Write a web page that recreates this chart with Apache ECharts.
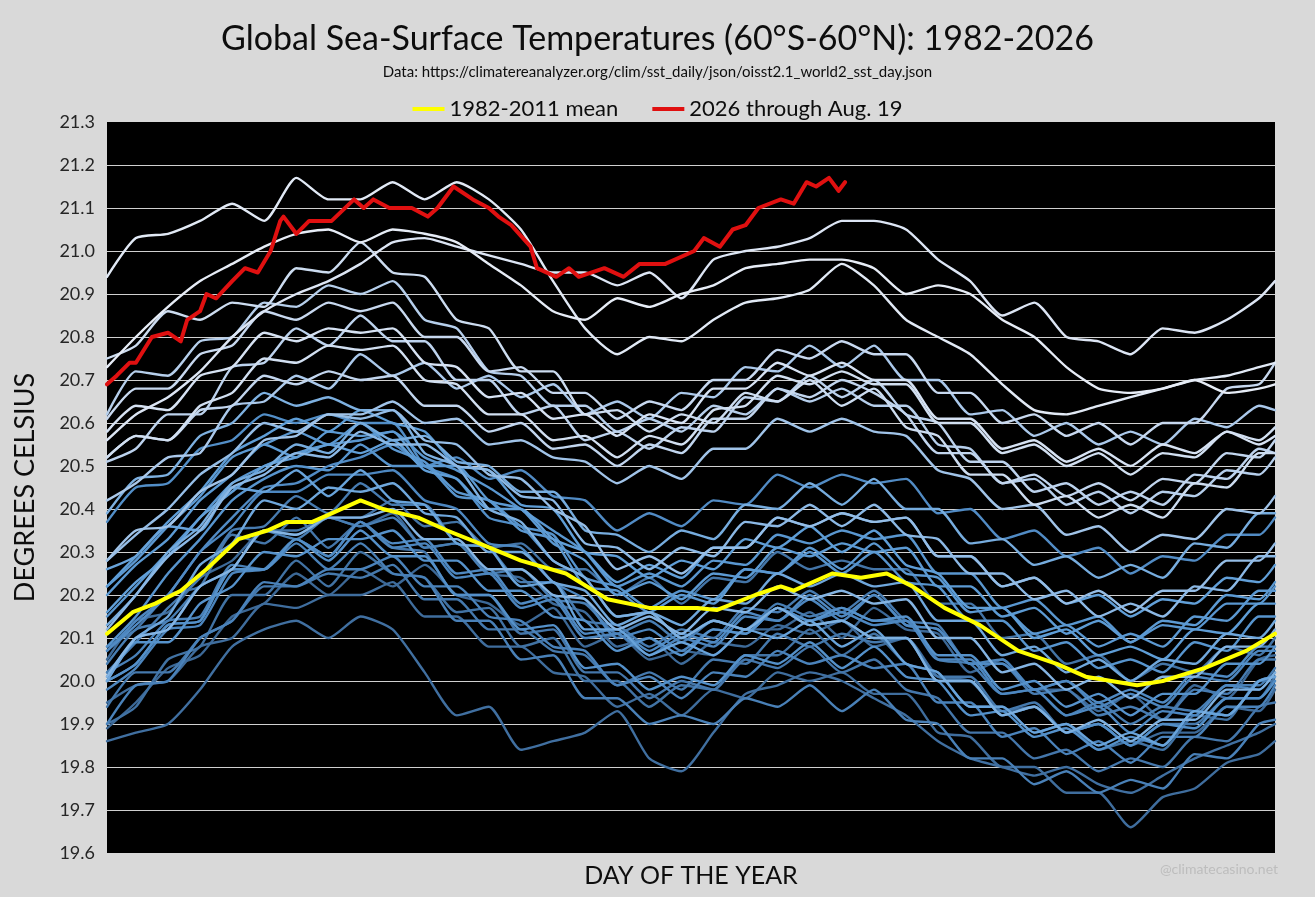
<!DOCTYPE html>
<html>
<head>
<meta charset="utf-8">
<title>Global Sea-Surface Temperatures</title>
<script src="https://cdn.jsdelivr.net/npm/echarts@6/dist/echarts.min.js"></script>
<style>
  html, body { margin: 0; padding: 0; background: #d9d9d9; }
  #chart { width: 1315px; height: 897px; }
</style>
</head>
<body>
<div id="chart"></div>
<script>
// sample days used for every year line (day of the year)
const DAYS = [1,10,20,30,40,50,60,70,80,90,100,110,120,130,140,150,160,170,180,190,200,210,220,230,240,250,260,270,280,290,300,310,320,330,340,350,360,365];

const YEARS = [1982,1983,1984,1985,1986,1987,1988,1989,1990,1991,1992,1993,1994,1995,1996,1997,1998,1999,2000,2001,2002,2003,2004,2005,2006,2007,2008,2009,2010,2011,2012,2013,2014,2015,2016,2017,2018,2019,2020,2021,2022,2023,2024,2025];

// one list per year at the DAYS above
const y1982 = [19.89,19.95,20.03,20.06,20.15,20.18,20.25,20.20,20.26,20.22,20.27,20.20,20.18,20.13,20.17,20.08,20.11,20.05,20.07,20.06,20.12,20.12,20.16,20.10,20.17,20.12,20.11,20.02,20.05,19.98,19.98,19.93,19.97,19.91,19.99,19.96,20.05,20.06];
const y1983 = [20.05,20.14,20.16,20.24,20.28,20.35,20.34,20.38,20.36,20.39,20.31,20.32,20.25,20.24,20.18,20.16,20.08,20.10,20.04,20.09,20.08,20.13,20.11,20.14,20.08,20.10,20.01,20.00,19.93,19.94,19.88,19.90,19.85,19.88,19.88,19.94,19.93,19.98];
const y1984 = [19.95,19.99,20.00,20.08,20.10,20.18,20.17,20.20,20.20,20.23,20.15,20.15,20.08,20.08,20.02,20.01,19.94,19.97,19.92,19.98,19.96,20.02,20.00,20.02,19.97,19.97,19.88,19.87,19.80,19.80,19.74,19.74,19.66,19.73,19.75,19.81,19.83,19.86];
const y1985 = [19.86,19.88,19.90,19.98,20.08,20.12,20.14,20.10,20.15,20.12,20.02,19.92,19.94,19.84,19.86,19.88,19.93,19.82,19.79,19.88,19.97,19.99,20.02,20.00,19.96,19.92,19.86,19.82,19.80,19.78,19.80,19.76,19.74,19.78,19.82,19.85,19.88,19.90];
const y1986 = [19.90,19.94,20.05,20.08,20.20,20.20,20.28,20.22,20.30,20.25,20.24,20.16,20.17,20.08,20.10,20.00,20.00,19.94,19.99,19.98,20.06,20.06,20.12,20.06,20.11,20.04,20.02,19.94,19.94,19.88,19.90,19.84,19.86,19.84,19.92,19.91,20.00,20.00];
const y1987 = [20.00,20.10,20.12,20.22,20.26,20.35,20.35,20.38,20.38,20.42,20.36,20.37,20.31,20.32,20.26,20.26,20.20,20.24,20.18,20.24,20.23,20.30,20.26,20.28,20.26,20.26,20.18,20.18,20.10,20.11,20.04,20.06,20.00,20.04,20.02,20.08,20.06,20.10];
const y1988 = [20.08,20.12,20.20,20.22,20.34,20.32,20.38,20.31,20.37,20.31,20.30,20.20,20.20,20.11,20.12,20.02,20.02,19.96,20.00,19.98,20.05,20.03,20.08,20.02,20.05,19.98,19.96,19.88,19.88,19.82,19.84,19.79,19.82,19.80,19.87,19.86,19.94,19.95];
const y1989 = [19.94,20.02,20.02,20.10,20.14,20.22,20.22,20.25,20.24,20.27,20.19,20.19,20.12,20.12,20.07,20.06,19.99,20.02,19.98,20.05,20.04,20.11,20.08,20.11,20.09,20.10,20.01,20.01,19.93,19.95,19.88,19.90,19.85,19.90,19.90,19.96,19.96,20.01];
const y1990 = [20.02,20.09,20.17,20.24,20.35,20.36,20.43,20.39,20.46,20.41,20.41,20.32,20.31,20.23,20.23,20.14,20.13,20.08,20.12,20.10,20.17,20.16,20.21,20.16,20.21,20.14,20.13,20.04,20.04,19.97,19.98,19.92,19.94,19.91,19.98,19.97,20.05,20.05];
const y1991 = [20.04,20.12,20.14,20.22,20.26,20.35,20.33,20.38,20.36,20.38,20.31,20.32,20.25,20.26,20.19,20.18,20.11,20.14,20.09,20.14,20.12,20.18,20.15,20.17,20.14,20.14,20.05,20.04,19.97,19.98,19.92,19.95,19.90,19.94,19.93,19.99,19.99,20.03];
const y1992 = [20.02,20.06,20.14,20.15,20.27,20.26,20.32,20.26,20.32,20.25,20.24,20.14,20.14,20.05,20.06,19.96,19.96,19.90,19.92,19.90,19.96,19.94,19.99,19.93,19.98,19.91,19.90,19.82,19.82,19.76,19.79,19.74,19.77,19.75,19.83,19.82,19.90,19.91];
const y1993 = [19.90,19.99,20.00,20.10,20.14,20.23,20.22,20.26,20.26,20.29,20.22,20.22,20.15,20.14,20.08,20.07,19.99,20.01,19.96,20.02,20.01,20.07,20.04,20.06,20.03,20.04,19.95,19.95,19.87,19.89,19.83,19.86,19.81,19.87,19.87,19.94,19.94,19.99];
const y1994 = [19.98,20.03,20.12,20.13,20.25,20.26,20.33,20.29,20.37,20.31,20.32,20.24,20.25,20.17,20.19,20.10,20.11,20.06,20.10,20.08,20.15,20.14,20.19,20.14,20.20,20.13,20.12,20.04,20.05,19.98,20.00,19.94,19.97,19.94,20.01,20.00,20.07,20.07];
const y1995 = [20.07,20.14,20.20,20.30,20.36,20.44,20.44,20.48,20.48,20.49,20.42,20.40,20.32,20.31,20.23,20.19,20.10,20.12,20.07,20.12,20.11,20.17,20.14,20.16,20.13,20.14,20.05,20.05,19.97,19.98,19.92,19.94,19.88,19.93,19.92,19.99,19.98,20.02];
const y1996 = [20.00,20.04,20.13,20.14,20.26,20.26,20.33,20.29,20.37,20.32,20.33,20.25,20.26,20.18,20.20,20.11,20.12,20.07,20.11,20.09,20.16,20.14,20.20,20.15,20.20,20.13,20.12,20.04,20.04,19.98,20.00,19.95,19.98,19.95,20.02,20.01,20.08,20.08];
const y1997 = [20.07,20.13,20.20,20.30,20.38,20.45,20.46,20.50,20.52,20.55,20.50,20.52,20.47,20.49,20.43,20.42,20.35,20.39,20.36,20.42,20.41,20.48,20.45,20.48,20.46,20.47,20.39,20.40,20.33,20.35,20.29,20.31,20.25,20.29,20.28,20.34,20.34,20.38];
const y1998 = [20.37,20.45,20.46,20.54,20.56,20.62,20.60,20.62,20.60,20.60,20.50,20.47,20.38,20.36,20.28,20.24,20.15,20.16,20.10,20.14,20.12,20.17,20.13,20.14,20.10,20.10,20.00,20.00,19.92,19.94,19.88,19.90,19.85,19.90,19.89,19.96,19.96,20.00];
const y1999 = [20.00,20.04,20.13,20.14,20.26,20.26,20.33,20.28,20.35,20.29,20.29,20.20,20.20,20.12,20.13,20.03,20.04,19.98,20.01,19.99,20.06,20.04,20.09,20.03,20.08,20.01,20.00,19.92,19.93,19.87,19.89,19.84,19.87,19.85,19.93,19.92,20.00,20.01];
const y2000 = [20.01,20.09,20.09,20.18,20.22,20.30,20.29,20.33,20.33,20.35,20.28,20.28,20.21,20.21,20.15,20.14,20.07,20.10,20.06,20.12,20.11,20.17,20.14,20.17,20.14,20.15,20.06,20.06,19.98,20.00,19.94,19.97,19.92,19.97,19.97,20.04,20.04,20.08];
const y2001 = [20.08,20.15,20.25,20.33,20.42,20.47,20.50,20.49,20.55,20.50,20.50,20.43,20.42,20.36,20.34,20.24,20.22,20.17,20.21,20.19,20.26,20.25,20.30,20.25,20.30,20.23,20.22,20.14,20.14,20.07,20.09,20.03,20.05,20.02,20.09,20.07,20.15,20.15];
const y2002 = [20.15,20.22,20.30,20.38,20.46,20.50,20.53,20.55,20.56,20.58,20.52,20.49,20.45,20.40,20.35,20.30,20.22,20.25,20.22,20.28,20.27,20.34,20.32,20.35,20.33,20.34,20.25,20.25,20.17,20.19,20.13,20.15,20.09,20.13,20.12,20.18,20.18,20.22];
const y2003 = [20.22,20.28,20.36,20.43,20.52,20.55,20.58,20.55,20.60,20.54,20.51,20.44,20.42,20.35,20.33,20.22,20.21,20.16,20.20,20.18,20.26,20.25,20.31,20.26,20.32,20.25,20.24,20.16,20.17,20.11,20.13,20.08,20.11,20.08,20.15,20.14,20.21,20.21];
const y2004 = [20.20,20.27,20.33,20.42,20.48,20.55,20.52,20.58,20.57,20.58,20.50,20.50,20.42,20.40,20.32,20.28,20.20,20.23,20.19,20.25,20.24,20.31,20.29,20.32,20.30,20.31,20.22,20.22,20.15,20.17,20.11,20.14,20.09,20.14,20.13,20.20,20.19,20.23];
const y2005 = [20.22,20.29,20.37,20.44,20.53,20.57,20.61,20.58,20.63,20.60,20.58,20.50,20.49,20.41,20.40,20.30,20.29,20.24,20.28,20.26,20.33,20.31,20.36,20.30,20.35,20.27,20.25,20.17,20.17,20.10,20.12,20.06,20.08,20.05,20.12,20.11,20.18,20.18];
const y2006 = [20.16,20.23,20.29,20.38,20.44,20.50,20.52,20.55,20.53,20.56,20.49,20.47,20.40,20.40,20.33,20.30,20.23,20.27,20.24,20.31,20.31,20.38,20.36,20.39,20.37,20.38,20.29,20.29,20.22,20.24,20.18,20.20,20.15,20.19,20.18,20.24,20.23,20.27];
const y2007 = [20.26,20.29,20.36,20.35,20.45,20.44,20.49,20.43,20.49,20.42,20.41,20.32,20.31,20.22,20.23,20.12,20.12,20.06,20.09,20.06,20.12,20.10,20.14,20.08,20.12,20.04,20.02,19.94,19.94,19.88,19.90,19.85,19.88,19.85,19.93,19.92,20.00,20.01];
const y2008 = [20.00,20.10,20.15,20.27,20.32,20.42,20.40,20.45,20.44,20.46,20.39,20.38,20.30,20.30,20.23,20.21,20.13,20.16,20.13,20.19,20.18,20.25,20.22,20.25,20.22,20.23,20.14,20.14,20.06,20.08,20.02,20.05,20.00,20.05,20.04,20.11,20.10,20.14];
const y2009 = [20.13,20.20,20.30,20.36,20.46,20.49,20.55,20.53,20.60,20.56,20.57,20.51,20.50,20.44,20.44,20.35,20.34,20.30,20.35,20.33,20.41,20.40,20.46,20.41,20.47,20.40,20.40,20.32,20.33,20.27,20.29,20.24,20.27,20.24,20.32,20.31,20.39,20.39];
const y2010 = [20.39,20.47,20.48,20.57,20.60,20.67,20.64,20.66,20.63,20.63,20.53,20.50,20.40,20.37,20.28,20.24,20.15,20.16,20.10,20.14,20.12,20.17,20.13,20.14,20.10,20.10,20.00,20.00,19.92,19.94,19.88,19.91,19.86,19.91,19.91,19.98,19.98,20.02];
const y2011 = [20.01,20.10,20.12,20.22,20.26,20.35,20.34,20.38,20.38,20.40,20.33,20.33,20.26,20.26,20.20,20.19,20.12,20.15,20.11,20.17,20.16,20.22,20.19,20.21,20.18,20.19,20.10,20.10,20.02,20.04,19.98,20.01,19.96,20.01,20.01,20.08,20.08,20.12];
const y2012 = [20.12,20.20,20.29,20.35,20.45,20.48,20.53,20.52,20.58,20.55,20.55,20.50,20.49,20.43,20.42,20.32,20.31,20.26,20.31,20.29,20.37,20.36,20.41,20.36,20.41,20.34,20.33,20.25,20.25,20.19,20.21,20.15,20.18,20.15,20.22,20.21,20.29,20.29];
const y2013 = [20.28,20.34,20.40,20.48,20.53,20.60,20.58,20.62,20.61,20.63,20.56,20.55,20.48,20.47,20.40,20.36,20.26,20.29,20.25,20.31,20.31,20.38,20.36,20.39,20.37,20.38,20.29,20.29,20.22,20.24,20.18,20.21,20.16,20.21,20.21,20.28,20.28,20.32];
const y2014 = [20.28,20.35,20.36,20.44,20.48,20.56,20.57,20.62,20.62,20.65,20.60,20.61,20.55,20.56,20.52,20.51,20.46,20.50,20.47,20.54,20.54,20.61,20.58,20.61,20.58,20.57,20.49,20.47,20.40,20.41,20.34,20.36,20.30,20.34,20.33,20.40,20.39,20.43];
const y2015 = [20.42,20.46,20.52,20.53,20.64,20.65,20.71,20.68,20.76,20.71,20.74,20.68,20.71,20.66,20.69,20.62,20.65,20.61,20.67,20.66,20.73,20.72,20.78,20.73,20.78,20.70,20.70,20.62,20.63,20.57,20.60,20.55,20.58,20.55,20.61,20.59,20.64,20.63];
const y2016 = [20.62,20.72,20.71,20.79,20.80,20.88,20.87,20.92,20.90,20.93,20.84,20.82,20.72,20.71,20.64,20.64,20.58,20.61,20.58,20.64,20.62,20.68,20.65,20.68,20.64,20.64,20.55,20.54,20.46,20.47,20.41,20.44,20.39,20.44,20.43,20.49,20.48,20.52];
const y2017 = [20.51,20.54,20.62,20.62,20.73,20.74,20.82,20.78,20.85,20.79,20.79,20.70,20.70,20.62,20.64,20.56,20.58,20.54,20.59,20.58,20.66,20.65,20.71,20.66,20.70,20.62,20.60,20.51,20.51,20.44,20.46,20.41,20.44,20.41,20.48,20.47,20.54,20.53];
const y2018 = [20.52,20.57,20.56,20.63,20.64,20.71,20.69,20.72,20.70,20.71,20.64,20.64,20.58,20.60,20.54,20.55,20.50,20.55,20.53,20.61,20.61,20.68,20.66,20.70,20.67,20.62,20.53,20.53,20.46,20.48,20.43,20.46,20.42,20.47,20.46,20.53,20.52,20.56];
const y2019 = [20.61,20.68,20.68,20.76,20.78,20.86,20.84,20.88,20.86,20.88,20.80,20.80,20.72,20.73,20.67,20.67,20.61,20.65,20.63,20.70,20.70,20.77,20.75,20.79,20.76,20.76,20.67,20.67,20.60,20.62,20.57,20.60,20.55,20.60,20.60,20.68,20.69,20.74];
const y2020 = [20.75,20.78,20.86,20.84,20.88,20.87,20.96,20.95,21.02,20.95,20.94,20.84,20.82,20.72,20.72,20.62,20.63,20.58,20.62,20.60,20.67,20.65,20.70,20.64,20.68,20.59,20.57,20.48,20.48,20.41,20.43,20.38,20.41,20.38,20.46,20.45,20.53,20.53];
const y2021 = [20.52,20.57,20.56,20.64,20.67,20.75,20.74,20.78,20.77,20.78,20.70,20.69,20.62,20.62,20.56,20.57,20.52,20.57,20.55,20.63,20.64,20.71,20.69,20.72,20.69,20.69,20.60,20.60,20.53,20.55,20.50,20.53,20.48,20.53,20.52,20.58,20.56,20.59];
const y2022 = [20.58,20.64,20.63,20.71,20.73,20.81,20.79,20.82,20.81,20.82,20.74,20.73,20.66,20.67,20.61,20.62,20.57,20.62,20.60,20.68,20.68,20.74,20.71,20.74,20.70,20.70,20.61,20.61,20.54,20.56,20.51,20.54,20.50,20.55,20.53,20.58,20.55,20.57];
const y2023 = [20.56,20.62,20.66,20.72,20.80,20.86,20.90,20.93,20.97,21.02,21.03,21.01,20.99,20.97,20.95,20.95,20.92,20.95,20.89,20.98,21.00,21.01,21.03,21.07,21.07,21.05,20.98,20.93,20.85,20.88,20.80,20.79,20.76,20.82,20.81,20.84,20.89,20.93];
const y2024 = [20.94,21.03,21.04,21.07,21.11,21.07,21.17,21.12,21.12,21.16,21.12,21.16,21.12,21.05,20.93,20.82,20.76,20.80,20.79,20.84,20.88,20.89,20.91,20.97,20.92,20.84,20.80,20.76,20.69,20.63,20.62,20.64,20.66,20.68,20.70,20.71,20.73,20.74];
const y2025 = [20.73,20.80,20.87,20.93,20.97,21.01,21.04,21.05,21.02,21.05,21.04,21.02,20.97,20.92,20.86,20.84,20.89,20.87,20.90,20.92,20.96,20.97,20.98,20.98,20.96,20.90,20.92,20.90,20.84,20.80,20.73,20.68,20.67,20.68,20.70,20.67,20.68,20.69];

const YEAR_VALUES = [y1982,y1983,y1984,y1985,y1986,y1987,y1988,y1989,y1990,y1991,y1992,y1993,y1994,y1995,y1996,y1997,y1998,y1999,y2000,y2001,y2002,y2003,y2004,y2005,y2006,y2007,y2008,y2009,y2010,y2011,y2012,y2013,y2014,y2015,y2016,y2017,y2018,y2019,y2020,y2021,y2022,y2023,y2024,y2025];

// 1982-2011 mean (yellow)
const meanDays = [1,9,16,24,32,42,51,57,65,71,80,87,98,107,117,130,144,157,170,185,191,203,211,215,227,236,244,252,262,273,285,297,306,322,330,343,356,365];
const meanVals = [20.11,20.16,20.18,20.21,20.26,20.33,20.35,20.37,20.37,20.39,20.42,20.40,20.38,20.35,20.32,20.28,20.25,20.19,20.17,20.17,20.165,20.20,20.22,20.21,20.25,20.24,20.25,20.22,20.17,20.13,20.07,20.04,20.01,19.99,20.00,20.03,20.07,20.11];

// 2026 through Aug. 19 (red)
const curDays = [1,4,8,10,15,20,24,26,30,32,35,40,44,48,52,55,56,60,64,71,78,81,84,89,96,101,104,109,115,120,123,127,133,135,141,145,148,156,162,167,175,184,187,192,196,200,204,211,215,219,222,226,229,231];
const curVals = [20.69,20.71,20.74,20.74,20.80,20.81,20.79,20.84,20.86,20.90,20.89,20.93,20.96,20.95,21.00,21.07,21.08,21.04,21.07,21.07,21.12,21.10,21.12,21.10,21.10,21.08,21.10,21.15,21.12,21.10,21.08,21.06,21.01,20.96,20.94,20.96,20.94,20.96,20.94,20.97,20.97,21.00,21.03,21.01,21.05,21.06,21.10,21.12,21.11,21.16,21.15,21.17,21.14,21.16];

const FONT = 'Lato';

// older years dark blue, recent years almost white
const colorStops = [
  [0.00, [60, 104, 150]],
  [0.30, [77, 135, 192]],
  [0.55, [95, 158, 215]],
  [0.70, [140, 184, 229]],
  [0.80, [185, 208, 236]],
  [1.00, [230, 236, 246]]
];
function yearColor(t) {
  for (let k = 1; k < colorStops.length; k++) {
    const a = colorStops[k - 1], b = colorStops[k];
    if (t <= b[0]) {
      const f = (t - a[0]) / (b[0] - a[0]);
      const c = a[1].map((v, j) => Math.round(v + (b[1][j] - v) * f));
      return 'rgb(' + c.join(',') + ')';
    }
  }
  return 'rgb(230,236,246)';
}

function pairs(days, vals) {
  return days.map((d, i) => [d, vals[i]]);
}

const series = YEARS.map((yr, i) => ({
  name: String(yr),
  type: 'line',
  data: pairs(DAYS, YEAR_VALUES[i]),
  showSymbol: false,
  silent: true,
  smooth: 0.2,
  lineStyle: { width: 2.4, color: yearColor(i / (YEARS.length - 1)), cap: 'round', join: 'round' },
  itemStyle: { color: yearColor(i / (YEARS.length - 1)) }
}));

series.push({
  name: '1982-2011 mean',
  type: 'line',
  data: pairs(meanDays, meanVals),
  showSymbol: false,
  lineStyle: { width: 4, color: '#ffff00', cap: 'round', join: 'round' },
  itemStyle: { color: '#ffff00' }
});
series.push({
  name: '2026 through Aug. 19',
  type: 'line',
  data: pairs(curDays, curVals),
  showSymbol: false,
  lineStyle: { width: 4, color: '#e01010', cap: 'round', join: 'round' },
  itemStyle: { color: '#e01010' }
});

const chart = echarts.init(document.getElementById('chart'));
chart.setOption({
  animation: false,
  backgroundColor: '#d9d9d9',
  title: [
    {
      text: 'Global Sea-Surface Temperatures (60°S-60°N): 1982-2026',
      left: 'center',
      top: 17,
      textStyle: { fontFamily: FONT, fontSize: 34, fontWeight: 'normal', color: '#0d0d0d' }
    },
    {
      text: 'Data: https://climatereanalyzer.org/clim/sst_daily/json/oisst2.1_world2_sst_day.json',
      left: 'center',
      top: 60,
      textStyle: { fontFamily: FONT, fontSize: 15, fontWeight: 'normal', color: '#0d0d0d' }
    }
  ],
  legend: {
    data: ['1982-2011 mean', '2026 through Aug. 19'],
    top: 93,
    left: 'center',
    icon: 'rect',
    itemWidth: 32,
    itemHeight: 4,
    itemGap: 34,
    textStyle: { fontFamily: FONT, fontSize: 22, color: '#0d0d0d' }
  },
  grid: {
    left: 107,
    right: 40,
    top: 122,
    bottom: 44,
    show: true,
    backgroundColor: '#000000',
    borderWidth: 0
  },
  xAxis: {
    type: 'value',
    min: 1,
    max: 365,
    name: 'DAY OF THE YEAR',
    nameLocation: 'middle',
    nameGap: 10,
    nameTextStyle: { fontFamily: FONT, fontSize: 25, color: '#0d0d0d', verticalAlign: 'top' },
    axisLine: { show: false },
    axisTick: { show: false },
    axisLabel: { show: false },
    splitLine: { show: false }
  },
  yAxis: {
    type: 'value',
    min: 19.6,
    max: 21.3,
    interval: 0.1,
    name: 'DEGREES CELSIUS',
    nameLocation: 'middle',
    nameGap: 68,
    nameTextStyle: { fontFamily: FONT, fontSize: 27, color: '#0d0d0d' },
    axisLine: { show: false },
    axisTick: { show: false },
    axisLabel: {
      margin: 12,
      fontFamily: FONT,
      fontSize: 18,
      color: '#262626',
      formatter: v => v.toFixed(1)
    },
    splitLine: {
      show: true,
      showMinLine: false,
      showMaxLine: false,
      lineStyle: { color: '#d0d0d0', width: 1 }
    }
  },
  graphic: [
    {
      type: 'text',
      right: 37,
      top: 862,
      style: { text: '@climatecasino.net', fill: '#bdbdbd', font: '14px Lato' }
    }
  ],
  series: series
});
</script>
</body>
</html>
